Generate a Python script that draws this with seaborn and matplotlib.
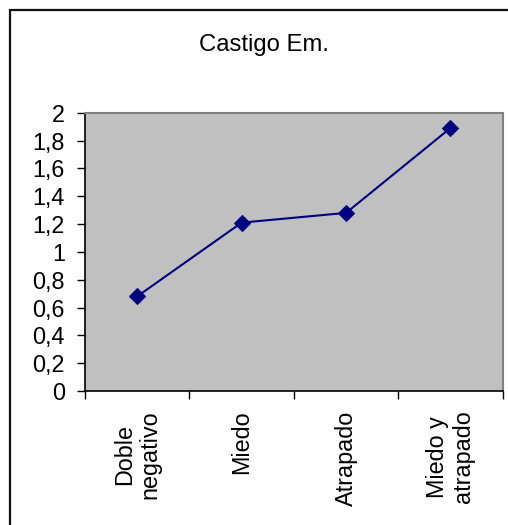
import matplotlib
matplotlib.use("Agg")
import matplotlib.pyplot as plt
from matplotlib.patches import Rectangle
import seaborn as sns
import pandas as pd

# Data
categories = ["Doble\nnegativo", "Miedo", "Atrapado", "Miedo y\natrapado"]
values = [0.68, 1.21, 1.28, 1.89]
y_ticks = [0, 0.2, 0.4, 0.6, 0.8, 1.0, 1.2, 1.4, 1.6, 1.8, 2.0]
y_tick_labels = ["0", "0,2", "0,4", "0,6", "0,8", "1", "1,2", "1,4", "1,6", "1,8", "2"]
title = "Castigo Em."

sns.set_style("ticks")
plt.rcParams["font.family"] = ["Liberation Sans", "DejaVu Sans"]
plt.rcParams["text.color"] = "black"
plt.rcParams["xtick.labelcolor"] = "black"
plt.rcParams["ytick.labelcolor"] = "black"

W, H = 508, 525
fig = plt.figure(figsize=(W / 100, H / 100), dpi=100)
fig.patch.set_facecolor("white")

# Chart frame
fig.patches.append(Rectangle((10 / W, -0.1), 1.2, 1 - 10 / H + 0.1,
                             transform=fig.transFigure, fill=False,
                             edgecolor="#111111", linewidth=1.6))

ax = fig.add_axes([85 / W, 1 - 391 / H, (502.7 - 85) / W, (391 - 112.7) / H])
ax.set_facecolor("#C0C0C0")

df = pd.DataFrame({"x": range(len(categories)), "y": values})
sns.lineplot(data=df, x="x", y="y", ax=ax, color="#000080", linewidth=1.5,
             marker="D", markersize=8.5, markeredgecolor="#000080")

ax.set_xlim(-0.5, len(categories) - 0.5)
ax.set_ylim(0, 2)
ax.set_xlabel("")
ax.set_ylabel("")

ax.set_yticks(y_ticks)
ax.set_yticklabels(y_tick_labels, fontsize=16.8, color="black")
ax.tick_params(axis="y", length=6, width=1, color="black", pad=8.5)

ax.set_xticks(range(len(categories)))
ax.set_xticklabels(categories, rotation=90, fontsize=16.8, ha="center", va="top",
                   multialignment="center", linespacing=1.15, color="black")
ax.set_xticks([i - 0.5 for i in range(len(categories) + 1)], minor=True)
ax.tick_params(axis="x", which="major", length=0, pad=14)
ax.tick_params(axis="x", which="minor", length=6, width=1, color="black")

for side in ["top", "right"]:
    ax.spines[side].set_color("#808080")
    ax.spines[side].set_linewidth(1.5)
for side in ["left", "bottom"]:
    ax.spines[side].set_color("black")
    ax.spines[side].set_linewidth(1.2)

fig.text(263.5 / W, 1 - 45 / H, title, ha="center", va="center", fontsize=17.2,
         color="black")

fig.savefig("out.png", dpi=100)
